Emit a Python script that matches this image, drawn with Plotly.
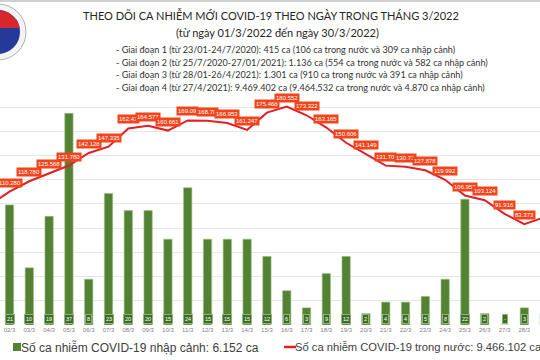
import plotly.graph_objects as go

days = list(range(1, 31))
day_labels = [f"{d:02d}/3" for d in days]

# imported cases (bars), 01/3 .. 30/3 (01/3, 29/3, 30/3 out of view)
imported = [10, 21, 10, 19, 37, 8, 23, 20, 20, 15, 24, 15, 15, 15, 12, 6, 3, 9, 12,
            2, 4, 4, 5, 8, 22, 2, 0, 3, 2, 4]
imported_labels = [str(v) if v > 0 else "-" for v in imported]

# domestic cases (line)
domestic = [99100, 110280, 118780, 125568, 131780, 142128, 147335, 162410, 164577,
            160661, 169090, 168700, 166953, 161247, 175468, 180552, 173322, 163165,
            150606, 141149, 131700, 130730, 127878, 119992, 106957, 103124, 91916,
            83373, 89000, 84000]
domestic_labels = ["99.100", "110.280", "118.780", "125.568", "131.780", "142.128", "147.335",
                   "162.41", "164.577", "160.661", "169.09", "168.70", "166.953", "161.247",
                   "175.468", "180.552", "173.322", "163.165", "150.606", "141.149", "131.70",
                   "130.73", "127.878", "119.992", "106.957", "103.124", "91.916", "83.373",
                   "89.000", "84.000"]

title1 = "THEO DÕI CA NHIỄM MỚI COVID-19 THEO NGÀY TRONG THÁNG 3/2022"
title2 = "(từ ngày 01/3/2022 đến ngày 30/3/2022)"
notes = [
    "- Giai đoạn 1 (từ 23/01-24/7/2020): 415 ca (106 ca trong nước và 309 ca nhập cảnh)",
    "- Giai đoạn 2 (từ 25/7/2020-27/01/2021): 1.136 ca (554 ca trong nước và 582 ca nhập cảnh)",
    "- Giai đoạn 3 (từ 28/01-26/4/2021): 1.301 ca (910 ca trong nước và 391 ca nhập cảnh)",
    "- Giai đoạn 4 (từ 27/4/2021): 9.469.402 ca (9.464.532 ca trong nước và 4.870 ca nhập cảnh)",
]
legend_bar = "Số ca nhiễm COVID-19 nhập cảnh: 6.152 ca"
legend_line = "Số ca nhiễm COVID-19 trong nước: 9.466.102 ca"

BAR_C = "#548235"
LINE_C = "#e31e24"
LAB_C = "#f2451c"

W, H = 540, 360
T, B = 100, 35
PH = H - T - B


def py(p):
    return (H - B - p) / PH


fig = go.Figure()
fig.add_trace(go.Bar(x=days, y=imported, width=0.42, marker=dict(color=BAR_C, line=dict(color="#9cc283", width=0.6)),
                     yaxis="y", showlegend=False, hoverinfo="skip"))
fig.add_trace(go.Scatter(x=days, y=domestic, mode="lines", line=dict(color=LINE_C, width=2),
                         yaxis="y2", showlegend=False, hoverinfo="skip"))

ann = []
x0, x1 = 1.52, 28.79
for d, v, t in zip(days, domestic, domestic_labels):
    if x0 <= d <= x1:
        ann.append(dict(x=d, y=v, xref="x", yref="y2", text=t, showarrow=False, yshift=9,
                        font=dict(size=6, color="white", family="Liberation Sans"),
                        bgcolor=LAB_C, borderpad=1))
for d, t in zip(days, imported_labels):
    if x0 <= d <= x1:
        ann.append(dict(x=d, y=0, xref="x", yref="y", text=t, showarrow=False, yshift=6,
                        font=dict(size=5.5, color="white", family="Liberation Sans"),
                        bgcolor="#3e6d27", bordercolor="#8db676", borderwidth=1, borderpad=1))

ann.append(dict(x=271 / W, y=py(15), xref="paper", yref="paper", text=title1, showarrow=False,
                font=dict(size=11, color="#262626", family="Lato"), xanchor="center", yanchor="middle"))
ann.append(dict(x=277 / W, y=py(32), xref="paper", yref="paper", text=title2, showarrow=False,
                font=dict(size=11, color="#262626", family="Lato"), xanchor="center", yanchor="middle"))
for i, (n, yy) in enumerate(zip(notes, [49, 62, 75, 87])):
    ann.append(dict(x=114 / W, y=py(yy), xref="paper", yref="paper", text=n, showarrow=False,
                    font=dict(size=9.1, color="#333333", family="Lato"), xanchor="left", yanchor="middle"))

ann.append(dict(x=19 / W, y=py(347), xref="paper", yref="paper", text=legend_bar, showarrow=False,
                font=dict(size=12, color="#404040", family="Liberation Sans"), xanchor="left", yanchor="middle"))
ann.append(dict(x=293 / W, y=py(347), xref="paper", yref="paper", text=legend_line, showarrow=False,
                font=dict(size=11.2, color="#404040", family="Liberation Sans"), xanchor="left", yanchor="middle"))

shapes = [
    dict(type="rect", xref="paper", yref="paper", x0=13 / W, x1=21 / W, y0=py(351), y1=py(343),
         fillcolor=BAR_C, line=dict(width=0)),
    dict(type="line", xref="paper", yref="paper", x0=284 / W, x1=296 / W, y0=py(347), y1=py(347),
         line=dict(color=LINE_C, width=2.5)),
    dict(type="line", xref="paper", yref="paper", x0=0, x1=1, y0=py(1), y1=py(1),
         line=dict(color="#d0d0d0", width=2)),
    # logo (partly cropped)
    dict(type="circle", xref="paper", yref="paper", x0=-30 / W, x1=26 / W, y0=py(60), y1=py(4),
         fillcolor="#f4f4f4", line=dict(color="#b0b0b0", width=1)),
    dict(type="circle", xref="paper", yref="paper", x0=-24 / W, x1=20 / W, y0=py(54), y1=py(10),
         fillcolor="#25399a", line=dict(width=0)),
    dict(type="path", xref="paper", yref="paper",
         path=f"M {-24 / W} {py(28)} L {20 / W} {py(28)} L {17 / W} {py(20)} L {8 / W} {py(12)} L {-2 / W} {py(10)} L {-14 / W} {py(13)} L {-22 / W} {py(20)} Z",
         fillcolor="#d7262c", line=dict(width=0)),
]

fig.update_layout(
    width=W, height=H,
    margin=dict(l=0, r=0, t=T, b=B),
    paper_bgcolor="white", plot_bgcolor="white",
    bargap=0.5,
    xaxis=dict(range=[x0, x1], tickvals=days, ticktext=day_labels, showgrid=False, zeroline=False,
               showline=False, ticks="", tickfont=dict(size=6, color="#7f7f7f", family="Liberation Sans")),
    yaxis=dict(range=[0, PH / 5.72], visible=False, showgrid=False, zeroline=False),
    yaxis2=dict(range=[0, PH * 826.4], overlaying="y", side="right", showgrid=True, gridcolor="#e6e6e6",
                gridwidth=1, dtick=20000, tick0=0, showticklabels=False, zeroline=False, showline=False),
    annotations=ann, shapes=shapes,
)

fig.write_html("out.html", config={"displayModeBar": False},
               post_script="document.body.style.margin='0';document.body.style.overflow='hidden';")
